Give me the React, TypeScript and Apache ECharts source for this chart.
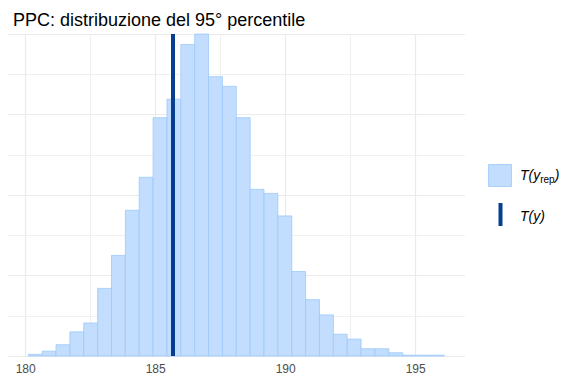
import React, { useEffect, useRef } from "react";
import * as echarts from "echarts";

const title = "PPC: distribuzione del 95° percentile";
const binStart = 180.1;
const binWidth = 0.5333;
const counts = [2, 6, 14, 30, 41, 84, 125, 181, 222, 296, 319, 387, 400, 347, 335, 296, 207, 202, 174, 105, 70, 51, 27, 21, 9, 9, 4, 1, 1, 1];
const observedStat = 185.665;
const xTickLabels = [180, 185, 190, 195];
const xMinorGrid = [182.5, 187.5, 192.5];
const xMin = 179.319;
const xMax = 196.896;

const FONT = "'Liberation Sans', Arial, Helvetica, sans-serif";
const BAR_FILL = "#c2ddfd";
const BAR_STROKE = "#9cc9fb";
const DARK = "#083e8f";
const GRID = "#ebebeb";

export default function App() {
  const ref = useRef<HTMLDivElement>(null);
  useEffect(() => {
    if (!ref.current) return;
    const chart = echarts.init(ref.current, null, { renderer: "svg" });
    const histData = counts.map((c, i) => [binStart + i * binWidth, binStart + (i + 1) * binWidth, c]);
    chart.setOption({
      animation: false,
      title: {
        text: title,
        left: 8,
        top: 6,
        textStyle: { fontFamily: FONT, fontSize: 18, fontWeight: "normal", color: "#000" },
      },
      grid: { left: 8, right: 111, top: 34, bottom: 28, containLabel: false },
      xAxis: {
        type: "value",
        min: xMin,
        max: xMax,
        axisLine: { show: false },
        axisTick: { show: false },
        splitLine: { show: false },
        axisLabel: {
          customValues: xTickLabels,
          color: "#4d4d4d",
          fontSize: 12,
          fontFamily: FONT,
          margin: 7,
        },
      },
      yAxis: {
        type: "value",
        min: 0,
        max: 400,
        interval: 100,
        axisLine: { show: false },
        axisTick: { show: false },
        axisLabel: { show: false },
        splitLine: { show: true, lineStyle: { color: GRID, width: 1 } },
        minorTick: { show: false, splitNumber: 2 },
        minorSplitLine: { show: true, lineStyle: { color: "#f0f0f0", width: 1 } },
      },
      series: [
        {
          type: "line",
          data: [],
          silent: true,
          markLine: {
            z: 1,
            silent: true,
            symbol: ["none", "none"],
            label: { show: false },
            data: [
              ...xTickLabels.map((v) => ({ xAxis: v, lineStyle: { color: GRID, width: 1.2, type: "solid" } })),
              ...xMinorGrid.map((v) => ({ xAxis: v, lineStyle: { color: "#f0f0f0", width: 1, type: "solid" } })),
            ],
          },
        },
        {
          type: "custom",
          z: 3,
          data: histData,
          encode: { x: [0, 1], y: 2 },
          renderItem: (params: any, api: any) => {
            const lo = api.value(0);
            const hi = api.value(1);
            const c = api.value(2);
            const p0 = api.coord([lo, c]);
            const p1 = api.coord([hi, 0]);
            return {
              type: "rect",
              shape: { x: p0[0], y: p0[1], width: p1[0] - p0[0], height: p1[1] - p0[1] },
              style: { fill: BAR_FILL, stroke: BAR_STROKE, lineWidth: 0.8 },
            };
          },
        },
        {
          type: "line",
          data: [],
          silent: true,
          markLine: {
            z: 10,
            silent: true,
            symbol: ["none", "none"],
            label: { show: false },
            data: [{ xAxis: observedStat, lineStyle: { color: DARK, width: 4, type: "solid" } }],
          },
        },
      ],
      graphic: [
        {
          type: "rect",
          shape: { x: 488.5, y: 164.5, width: 23, height: 22 },
          style: { fill: BAR_FILL, stroke: BAR_STROKE, lineWidth: 0.8 },
        },
        {
          type: "rect",
          shape: { x: 498.5, y: 203, width: 4, height: 23 },
          style: { fill: DARK },
        },
        {
          type: "text",
          x: 520,
          y: 175,
          style: {
            text: "{a|T(y}{b|rep}{a|)}",
            verticalAlign: "middle",
            rich: {
              a: { fontFamily: FONT, fontSize: 14, fontStyle: "italic", fill: "#000", lineHeight: 18, verticalAlign: "middle" },
              b: { fontFamily: FONT, fontSize: 10, fill: "#000", lineHeight: 12, verticalAlign: "bottom" },
            },
          },
        },
        {
          type: "text",
          x: 520,
          y: 216,
          style: {
            text: "T(y)",
            fontFamily: FONT,
            fontSize: 14,
            fontStyle: "italic",
            fill: "#000",
            verticalAlign: "middle",
          },
        },
      ],
    });
    return () => chart.dispose();
  }, []);
  return <div ref={ref} style={{ position: "absolute", left: 0, top: 0, width: 576, height: 384 }} />;
}
